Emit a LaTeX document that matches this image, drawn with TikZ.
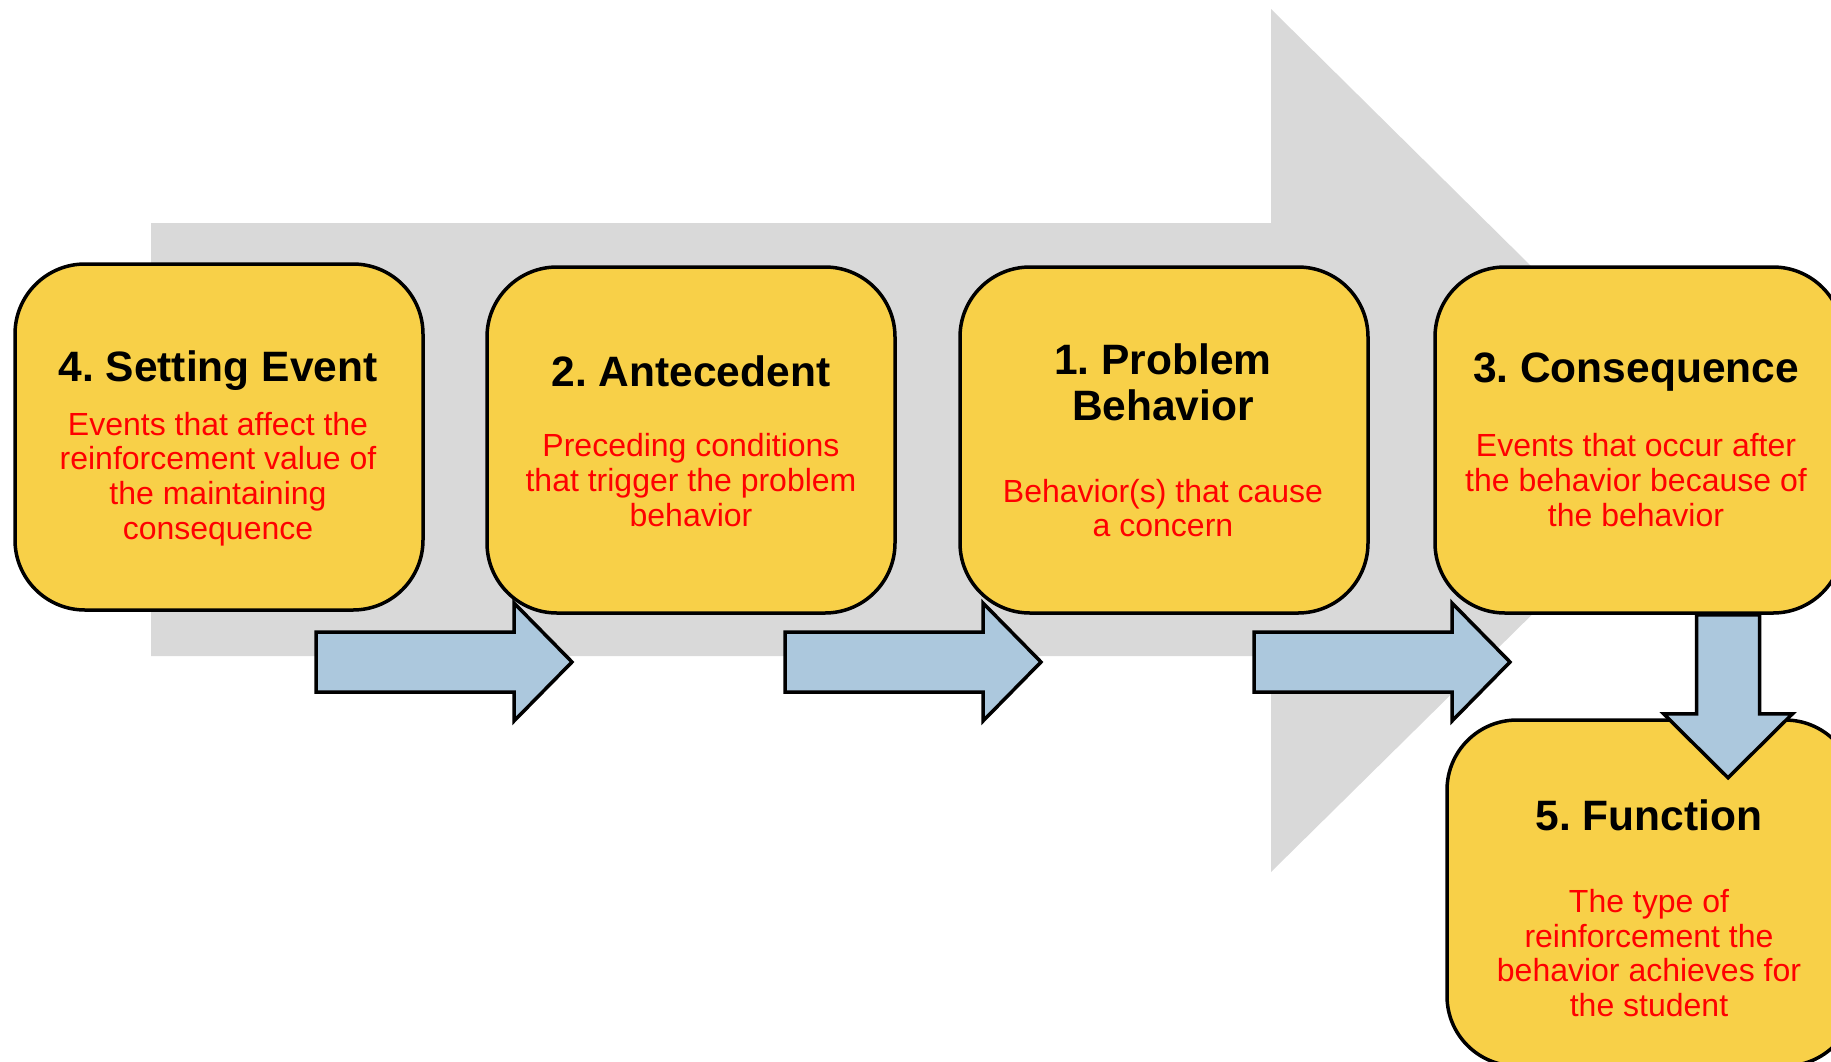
\documentclass[tikz,border=0pt]{standalone}
\usepackage{fontspec}
\setmainfont{Liberation Sans}
\definecolor{boxyellow}{HTML}{F8D048}
\definecolor{flowblue}{HTML}{ACC8DD}
\definecolor{bandgray}{HTML}{D9D9D9}
\definecolor{notered}{HTML}{FF0000}
\begin{document}
\begin{tikzpicture}[x=1pt,y=-1pt,
  stepbox/.style={draw=black, line width=3.5pt, fill=boxyellow, rounded corners=70pt,
    minimum width=408pt, minimum height=346pt, inner sep=0pt},
  headtext/.style={font=\fontsize{42.5}{46}\selectfont\bfseries, align=center, inner sep=0pt},
  bodytext/.style={font=\fontsize{32}{34.6}\selectfont, text=notered, align=center, inner sep=0pt},
  blockarrow/.style={draw=black, line width=3.5pt, fill=flowblue, line join=miter},
  pics/rightflow/.style={code={
    \draw[blockarrow] (0,-30) -- (198,-30) -- (198,-59) -- (256,0) -- (198,59) -- (198,30) -- (0,30) -- cycle;}},
  pics/downflow/.style={code={
    \draw[blockarrow] (-31.5,0) -- (31.5,0) -- (31.5,99) -- (64.5,99) -- (0,163) -- (-64.5,99) -- (-31.5,99) -- cycle;}}
]
\useasboundingbox (0,0) rectangle (1831,1061);

% wide background arrow
\fill[bandgray] (151,223) -- (1271,223) -- (1271,9) -- (1708,441) -- (1271,872) -- (1271,656) -- (151,656) -- cycle;

% boxes
\node[stepbox] (b4) at (219,437) {};
\node[stepbox] (b2) at (691,440) {};
\node[stepbox] (b1) at (1164,440) {};
\node[stepbox] (b3) at (1639,440) {};
\node[stepbox] (b5) at (1651,893) {};

% box texts
\node[headtext] (t4) at (218,371) {4.\ Setting Event};
\node[bodytext] (d4) at (218,479) {Events that affect the\\reinforcement value of\\the maintaining\\consequence};

\node[headtext] (t2) at (691,371) {2.\ Antecedent};
\node[bodytext] (d2) at (691,480) {Preceding conditions\\that trigger the problem\\behavior};

\node[headtext] (t1) at (1163,382) {1.\ Problem\\Behavior};
\node[bodytext] (d1) at (1163,508) {Behavior(s) that cause\\a concern};

\node[headtext] (t3) at (1636,372) {3.\ Consequence};
\node[bodytext] (d3) at (1636,480) {Events that occur after\\the behavior because of\\the behavior};

\node[headtext] (t5) at (1649,815) {5.\ Function};
\node[bodytext] (d5) at (1649,953) {The type of\\reinforcement the\\behavior achieves for\\the student};

% flow arrows between boxes
\pic at (316,662) {rightflow};
\pic at (785,662) {rightflow};
\pic at (1254,662) {rightflow};
\pic at (b3.south -| 1728,0) {downflow};
\end{tikzpicture}
\end{document}
